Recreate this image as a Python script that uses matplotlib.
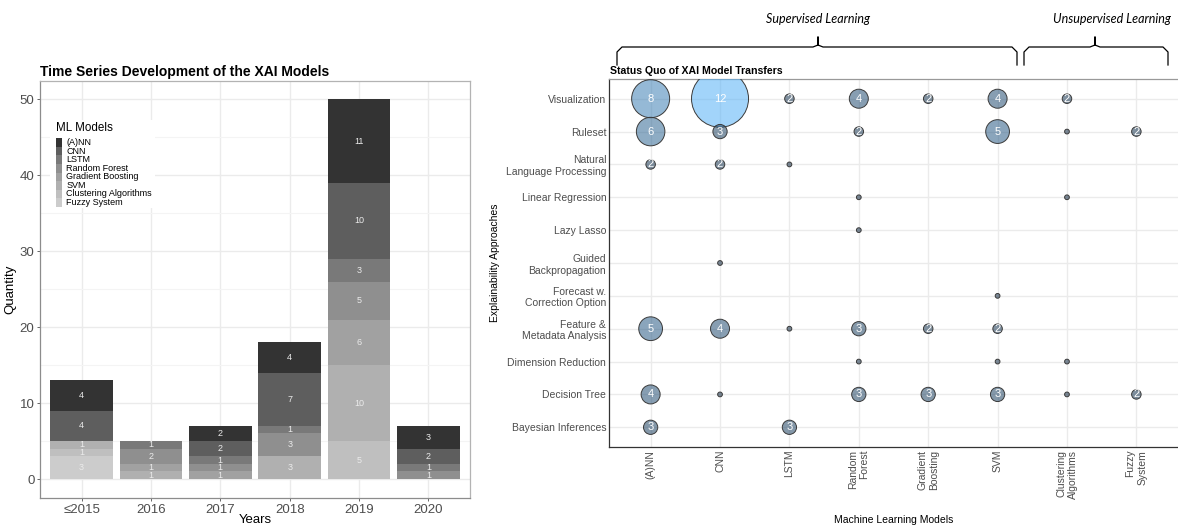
import numpy as np
import matplotlib.pyplot as plt
from matplotlib.colors import LinearSegmentedColormap, Normalize
from matplotlib.lines import Line2D
from matplotlib.patches import Rectangle

plt.rcParams['font.family'] = ['Liberation Sans', 'DejaVu Sans']

# ---------------- left chart data: papers per year and ML model
years = ['≤2015', '2016', '2017', '2018', '2019', '2020']
ml_models = ['(A)NN', 'CNN', 'LSTM', 'Random Forest', 'Gradient Boosting',
             'SVM', 'Clustering Algorithms', 'Fuzzy System']
ann_per_year = [4, 0, 2, 4, 11, 3]
cnn_per_year = [4, 0, 2, 7, 10, 2]
lstm_per_year = [0, 1, 1, 1, 3, 1]
rf_per_year = [0, 2, 1, 3, 5, 1]
gb_per_year = [0, 1, 1, 0, 6, 0]
svm_per_year = [1, 1, 0, 3, 10, 0]
clust_per_year = [1, 0, 0, 0, 5, 0]
fuzzy_per_year = [3, 0, 0, 0, 0, 0]
grey_fills = ['#333333', '#5e5e5e', '#797979', '#8f8f8f',
              '#a1a1a1', '#b0b0b0', '#bfbfbf', '#cccccc']

# ---------------- right chart data: transfers approach x model
model_cols = ['(A)NN', 'CNN', 'LSTM', 'Random\nForest', 'Gradient\nBoosting',
              'SVM', 'Clustering\nAlgorithms', 'Fuzzy\nSystem']
approaches = ['Visualization', 'Ruleset', 'Natural\nLanguage Processing',
              'Linear Regression', 'Lazy Lasso', 'Guided\nBackpropagation',
              'Forecast w.\nCorrection Option', 'Feature &\nMetadata Analysis',
              'Dimension Reduction', 'Decision Tree', 'Bayesian Inferences']
visualization = [8, 12, 2, 4, 2, 4, 2, 0]
ruleset = [6, 3, 0, 2, 0, 5, 1, 2]
nlp = [2, 2, 1, 0, 0, 0, 0, 0]
linear_regression = [0, 0, 0, 1, 0, 0, 1, 0]
lazy_lasso = [0, 0, 0, 1, 0, 0, 0, 0]
guided_backprop = [0, 1, 0, 0, 0, 0, 0, 0]
forecast = [0, 0, 0, 0, 0, 1, 0, 0]
feature_meta = [5, 4, 1, 3, 2, 2, 0, 0]
dim_reduction = [0, 0, 0, 1, 0, 1, 1, 0]
decision_tree = [4, 1, 0, 3, 3, 3, 1, 2]
bayesian = [3, 0, 3, 0, 0, 0, 0, 0]

W, H = 1178, 525
fig = plt.figure(figsize=(W / 100, H / 100), dpi=100)


def box(x0, y0, x1, y1):
    # pixel box (top-left origin) -> figure fraction rect
    return [x0 / W, 1 - y1 / H, (x1 - x0) / W, (y1 - y0) / H]


# ================= left: stacked bars
ax1 = fig.add_axes(box(40, 80.5, 470, 498))
per_model = [ann_per_year, cnn_per_year, lstm_per_year, rf_per_year,
             gb_per_year, svm_per_year, clust_per_year, fuzzy_per_year]
xpos = np.arange(1, len(years) + 1)
bottom = np.zeros(len(years))
for k in range(len(ml_models) - 1, -1, -1):
    vals = np.array(per_model[k], dtype=float)
    ax1.bar(xpos, vals, width=0.9, bottom=bottom, color=grey_fills[k],
            edgecolor='none', zorder=2)
    for xi, v, b in zip(xpos, vals, bottom):
        if v > 0:
            ax1.text(xi, b + v / 2, f'{int(v)}', ha='center', va='center',
                     color='#ebebeb', fontsize=6.5, zorder=3)
    bottom += vals

ax1.set_xlim(0.4, 6.6)
ax1.set_ylim(-2.5, 52.5)
ax1.set_xticks(xpos)
ax1.set_xticklabels(years)
ax1.set_yticks([0, 10, 20, 30, 40, 50])
ax1.set_yticks([5, 15, 25, 35, 45], minor=True)
ax1.grid(which='major', color='#ebebeb', linewidth=1.0, zorder=0)
ax1.grid(which='minor', axis='y', color='#f4f4f4', linewidth=0.8, zorder=0)
ax1.set_axisbelow(True)
ax1.tick_params(axis='both', which='major', labelsize=9.5, colors='#4d4d4d',
                length=2.5, width=0.6, pad=1.5)
ax1.tick_params(which='minor', length=0)
for side in ['top', 'right']:
    ax1.spines[side].set_color('#b3b3b3')
for side in ['left', 'bottom']:
    ax1.spines[side].set_color('#8c8c8c')
for sp in ax1.spines.values():
    sp.set_linewidth(0.9)
ax1.set_xlabel('Years', fontsize=9.5, labelpad=-1, color='black')
ax1.set_ylabel('Quantity', fontsize=9.5, labelpad=2, color='black')
fig.text(40 / W, 1 - 72 / H, 'Time Series Development of the XAI Models',
         fontsize=10, fontweight='bold', va='center', ha='left')

# legend, drawn by hand to get ggplot's packed colour keys
fig.add_artist(Rectangle((50 / W, 1 - 208 / H), 105 / W, 88 / H,
                         transform=fig.transFigure, facecolor='white',
                         edgecolor='none', zorder=5))
fig.text(56 / W, 1 - 128 / H, 'ML Models', fontsize=8.4, va='center',
         ha='left', zorder=6)
row_h = 8.55
for k, name in enumerate(ml_models):
    y0 = 138.3 + k * row_h
    fig.add_artist(Rectangle((56 / W, 1 - (y0 + row_h) / H), 5.5 / W,
                             row_h / H, transform=fig.transFigure,
                             facecolor=grey_fills[k], edgecolor='none',
                             zorder=6))
    fig.text(66.5 / W, 1 - (y0 + row_h / 2) / H, name, fontsize=6.5,
             va='center', ha='left', zorder=6)

# ================= right: bubble matrix
ax2 = fig.add_axes(box(609, 79, 1178, 447))
table = [visualization, ruleset, nlp, linear_regression, lazy_lasso,
         guided_backprop, forecast, feature_meta, dim_reduction,
         decision_tree, bayesian]
n_rows = len(approaches)
cmap = LinearSegmentedColormap.from_list('gg', ['#132B43', '#56B1F7'])
norm = Normalize(vmin=1, vmax=12)
xs, ys, vs = [], [], []
for i, row in enumerate(table):
    for j, v in enumerate(row):
        if v > 0:
            xs.append(j + 1)
            ys.append(n_rows - i)
            vs.append(v)
xs, ys, vs = np.array(xs), np.array(ys), np.array(vs, dtype=float)
order = np.argsort(vs)[::-1]
xs, ys, vs = xs[order], ys[order], vs[order]
sizes = (4.75 * 0.72 * vs) ** 2
face = cmap(norm(vs))
face[:, 3] = 0.55
ax2.scatter(xs, ys, s=sizes, c=face, edgecolors='#3a3a3a', linewidths=0.7,
            zorder=3)
for x, y, v in zip(xs, ys, vs):
    if v >= 2:
        ax2.text(x, y, f'{int(v)}', ha='center', va='center',
                 color='white', fontsize=8, zorder=4)

ax2.set_xlim(0.4, 8.6)
ax2.set_ylim(0.4, n_rows + 0.6)
ax2.set_xticks(np.arange(1, len(model_cols) + 1))
ax2.set_xticklabels(model_cols, rotation=90, ha='center', va='top',
                    multialignment='right')
ax2.set_yticks(np.arange(n_rows, 0, -1))
ax2.set_yticklabels(approaches, multialignment='right')
ax2.grid(True, color='#ebebeb', linewidth=1.0, zorder=0)
ax2.set_axisbelow(True)
ax2.tick_params(axis='both', labelsize=7.5, colors='#4d4d4d', length=0,
                pad=2)
ax2.spines['right'].set_visible(False)
ax2.spines['top'].set_color('#999999')
ax2.spines['left'].set_color('#333333')
ax2.spines['bottom'].set_color('#333333')
for sp in ax2.spines.values():
    sp.set_linewidth(0.9)
ax2.set_xlabel('Machine Learning Models', fontsize=7.5, labelpad=12)
ax2.set_ylabel('Explainability Approaches', fontsize=7.5, labelpad=4)
fig.text(610 / W, 1 - 71 / H, 'Status Quo of XAI Model Transfers',
         fontsize=7.6, fontweight='bold', va='center', ha='left')


# curly braces above the right chart
def brace(x0, x1, xm, y_line=47, y_end=65, y_tip=37, r=5):
    px = [x0, x0, x0 + r, xm - r, xm, xm, xm, xm + r, x1 - r, x1, x1]
    py = [y_end, y_line + r, y_line, y_line, y_line - 2, y_tip,
          y_line - 2, y_line, y_line, y_line + r, y_end]
    fig.add_artist(Line2D([p / W for p in px], [1 - q / H for q in py],
                          transform=fig.transFigure, color='black',
                          linewidth=0.9))


brace(617, 1017, 818)
brace(1024, 1168, 1095)
fig.text(818 / W, 1 - 19 / H, 'Supervised Learning', fontsize=9,
         style='italic', family=['Lato', 'DejaVu Sans'], ha='center',
         va='center')
fig.text(1112 / W, 1 - 19 / H, 'Unsupervised Learning', fontsize=9,
         style='italic', family=['Lato', 'DejaVu Sans'], ha='center',
         va='center')

fig.savefig('out.png', dpi=100)
